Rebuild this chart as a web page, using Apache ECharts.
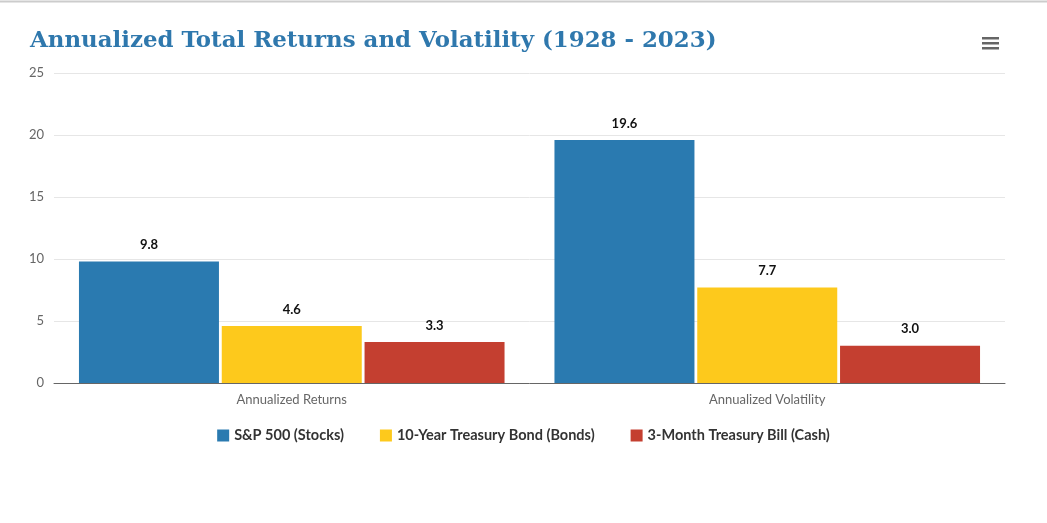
<!DOCTYPE html>
<html>
<head>
<meta charset="utf-8">
<script src="https://cdn.jsdelivr.net/npm/echarts@6/dist/echarts.min.js"></script>
<style>
  html, body { margin: 0; padding: 0; background: #fff; }
  #chart { width: 1047px; height: 523px; }
</style>
</head>
<body>
<div id="chart"></div>
<script>
// 数据
const categories = ["Annualized Returns", "Annualized Volatility"];
const seriesNames = ["S&P 500 (Stocks)", "10-Year Treasury Bond (Bonds)", "3-Month Treasury Bill (Cash)"];
const stocks = [9.8, 19.6];
const bonds = [4.6, 7.7];
const cash = [3.3, 3.0];
const yTicks = [0, 5, 10, 15, 20, 25];

(function () {
    let myChart = echarts.init(document.getElementById("chart"));

    const labelStyle = {
        show: true,
        position: "top",
        distance: 10,
        color: "#111",
        fontWeight: "bold",
        fontSize: 13,
        fontFamily: "Lato, 'Noto Sans', sans-serif",
        formatter: p => p.value.toFixed(1)
    };

    function bar(name, data, color) {
        return {
            name: name,
            type: "bar",
            data: data,
            barGap: "2%",
            barCategoryGap: "10.5%",
            itemStyle: { color: color },
            label: labelStyle
        };
    }

    let option = {
        animation: false,
        title: {
            text: "Annualized Total Returns and Volatility (1928 - 2023)",
            left: 25,
            top: 25,
            textStyle: {
                color: "#2f78ad",
                fontFamily: "'DejaVu Serif', 'Liberation Serif', serif",
                fontWeight: "bold",
                fontSize: 22.9
            }
        },
        graphic: [
            { type: "line", shape: { x1: 0, y1: 1.5, x2: 1047, y2: 1.5 }, style: { stroke: "#cccccc", lineWidth: 2 } },
            { type: "rect", shape: { x: 982, y: 37, width: 17, height: 2.5 }, style: { fill: "#666" } },
            { type: "rect", shape: { x: 982, y: 42, width: 17, height: 2.5 }, style: { fill: "#666" } },
            { type: "rect", shape: { x: 982, y: 47, width: 17, height: 2.5 }, style: { fill: "#666" } }
        ],
        legend: {
            bottom: 75,
            left: "center",
            itemWidth: 12,
            itemHeight: 12,
            itemGap: 36,
            icon: "rect",
            textStyle: {
                color: "#333",
                fontWeight: "bold",
                fontSize: 14.5,
                fontFamily: "Lato, 'Noto Sans', sans-serif"
            },
            data: seriesNames
        },
        grid: {
            left: 54,
            right: 42,
            top: 73,
            bottom: 140
        },
        xAxis: {
            type: "category",
            data: categories,
            axisTick: { show: false },
            axisLine: { lineStyle: { color: "#666", width: 1 } },
            axisLabel: {
                color: "#666",
                fontSize: 13,
                margin: 10,
                fontFamily: "Lato, 'Noto Sans', sans-serif"
            }
        },
        yAxis: {
            type: "value",
            min: yTicks[0],
            max: yTicks[yTicks.length - 1],
            interval: 5,
            axisLabel: {
                color: "#666",
                fontSize: 13,
                margin: 10,
                fontFamily: "Lato, 'Noto Sans', sans-serif"
            },
            splitLine: { lineStyle: { color: "#e6e6e6" } }
        },
        series: [
            bar(seriesNames[0], stocks, "#2a7ab0"),
            bar(seriesNames[1], bonds, "#fdc91c"),
            bar(seriesNames[2], cash, "#c43f30")
        ]
    };
    myChart.setOption(option);
    window.addEventListener("resize", function () {
        myChart.resize();
    });
})();
</script>
</body>
</html>
